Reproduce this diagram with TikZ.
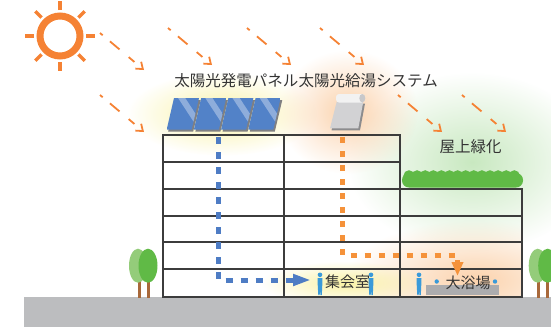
\documentclass[tikz,border=0pt]{standalone}
\usepackage{fontspec}
\setmainfont{Noto Sans CJK JP}
\usetikzlibrary{arrows.meta,fadings,positioning}

\definecolor{sunorange}{RGB}{245,130,52}
\definecolor{pipeorange}{RGB}{245,146,58}
\definecolor{pipeblue}{RGB}{78,124,196}
\definecolor{panelblue}{RGB}{82,130,200}
\definecolor{panelshadow}{RGB}{128,128,130}
\definecolor{heatergray}{RGB}{210,210,212}
\definecolor{heatershadow}{RGB}{140,140,142}
\definecolor{tankwhite}{RGB}{242,242,242}
\definecolor{tankend}{RGB}{200,200,202}
\definecolor{slabgray}{RGB}{60,60,60}
\definecolor{groundgray}{RGB}{188,189,191}
\definecolor{leaflight}{RGB}{148,204,122}
\definecolor{leafdark}{RGB}{96,186,70}
\definecolor{trunkbrown}{RGB}{168,104,58}
\definecolor{personblue}{RGB}{58,154,217}
\definecolor{bathgray}{RGB}{172,172,174}
\definecolor{labelgray}{RGB}{51,51,51}
\definecolor{glowyellow}{RGB}{249,242,165}
\definecolor{gloworange}{RGB}{251,210,172}
\definecolor{glowgreen}{RGB}{200,232,192}

\tikzfading[name=glowfade,inner color=transparent!0,outer color=transparent!100]

\tikzset{
  glow/.style={fill=#1,path fading=glowfade},
  slab/.style={draw=slabgray,line width=2.6pt},
  wall/.style={draw=slabgray,line width=1.6pt},
  ray/.style={draw=sunorange,line width=1.8pt,
    dash pattern=on 3.5pt off 9.5pt on 12.5pt off 12pt on 7.5pt off 20pt,
    -{Straight Barb[length=6pt,width=9pt]}},
  bluepipe/.style={draw=pipeblue,line width=5pt,dash pattern=on 7pt off 8pt,
    -{Triangle[length=18pt,width=11pt]}},
  orangepipe/.style={draw=pipeorange,line width=5pt,dash pattern=on 6pt off 8pt,
    -{Triangle[length=14pt,width=11pt]}},
  lbl/.style={text=labelgray,inner sep=0pt,font=\fontsize{15.5}{18}\selectfont},
  person/.pic={
    \fill[personblue] (0,20.2) circle (2.3);
    \fill[personblue] (-2.5,17) .. controls (-3.2,12) .. (-2.2,8) -- (-1.7,0)
      -- (-0.3,0) -- (0,7) -- (0.4,0) -- (1.8,0) -- (2.2,8)
      .. controls (3.2,12) .. (2.5,17) -- cycle;
  },
}

\begin{document}
\begin{tikzpicture}[x=1pt,y=1pt,yscale=-1,xscale=1]
\useasboundingbox (0,0) rectangle (551,327);

% glows
\fill[glow=glowgreen] (472,162) ellipse (125 and 90);
\fill[glow=glowyellow] (222,114) ellipse (95 and 42);
\fill[glow=gloworange] (348,112) ellipse (70 and 62);
\begin{scope}
  \clip (163,135) rectangle (522,297);
  \fill[glow=gloworange] (475,280) ellipse (130 and 60);
  \fill[glow=glowyellow] (345,283) ellipse (85 and 22);
\end{scope}

% ground and trees
\fill[groundgray] (24,297) rectangle (551,327);
\foreach \tx in {138,537.7}{
  \draw[trunkbrown,line width=3pt] (\tx+1,280) -- (\tx+1,298);
  \draw[trunkbrown,line width=3pt] (\tx+10,280) -- (\tx+10,298);
  \fill[leaflight] (\tx,265.7) ellipse (9 and 17);
  \fill[leafdark] (\tx+10,265.7) ellipse (9.5 and 17);
}

% building
\foreach \y in {135,162}
  \draw[slab] (163,\y) -- (400,\y);
\foreach \y in {189,216,242,269,297}
  \draw[slab] (163,\y) -- (522,\y);
\draw[wall] (163,134) -- (163,298);
\draw[wall] (284,134) -- (284,298);
\draw[wall] (400,134) -- (400,298);
\draw[wall] (522,188) -- (522,298);

% roof garden
\fill[leafdark,rounded corners=7pt] (402,173) rectangle (523,187.5);
\foreach \i in {0,...,13}
  \fill[leafdark] (409+8.1*\i,175.8) circle (5.6);

% pipes
\coordinate (pvout) at (218.7,137);
\coordinate (hallin) at (311,280);
\coordinate (swout) at (342.7,137);
\coordinate (bathturn) at (457.5,255);
\coordinate (bathin) at (457.5,276);
\draw[bluepipe] (pvout) |- (hallin);
\draw[orangepipe] (swout) |- (bathturn) -- (bathin);

% people and bath
\pic at (320,295) {person};
\pic at (371,295) {person};
\pic at (419,295) {person};
\fill[personblue] (436.7,281.5) circle (2.2);
\fill[personblue] (495,281.5) circle (2.2);
\fill[bathgray] (426,285) rectangle (499.3,295);

% labels
\node[lbl,anchor=east] (pvlabel) at (298.5,80.5) {太陽光発電パネル};
\node[lbl,anchor=west] (swlabel) at (298.5,80.5) {太陽光給湯システム};
\node[lbl] (roof) at (470.5,147) {屋上緑化};
\node[lbl,font=\fontsize{15}{18}\selectfont] (hall) at (347.5,281.5) {集会室};
\node[lbl,font=\fontsize{15}{18}\selectfont] (bath) at (468,283) {大浴場};

% solar panels
\foreach \i in {0,1,2,3}{
  \pgfmathsetmacro\px{166.7+27.2*\i}
  \fill[panelshadow] (\px+1.5,131.5) -- (\px+8.8,100) -- (\px+34,100) -- (\px+26.5,131.5) -- cycle;
  \begin{scope}
    \clip (\px,129.5) -- (\px+7.3,98) -- (\px+32.3,98) -- (\px+25,129.5) -- cycle;
    \fill[panelblue] (\px,98) rectangle (\px+33,130);
    \draw[white,opacity=.35,line width=6pt] (\px+13,95) -- (\px+30,121);
  \end{scope}
}

% solar water heater
\fill[heatershadow] (331.5,130.3) -- (338,103.5) -- (365,103.5) -- (360,130.3) -- cycle;
\fill[heatergray] (330,128.3) -- (336.7,101.7) -- (363.3,101.7) -- (358.3,128.3) -- cycle;
\fill[tankwhite,rounded corners=3pt] (336,94) rectangle (364.5,102.5);
\fill[tankend] (362.3,98.2) ellipse (3 and 4.2);

% sun
\node[circle,draw=sunorange,line width=7pt,minimum size=40pt,inner sep=0pt] (sun) at (60,36) {};
\foreach \a in {0,45,...,315}
  \draw[sunorange,line width=3.5pt] (sun.center) ++(\a:26) -- ++(\a:9);

% sunlight
\foreach \sx/\sy in {100/33,168/28,247/28,320/28,100/95,398/95,462/95}
  \draw[ray] (\sx,\sy) -- ++(44,37);
\end{tikzpicture}
\end{document}
